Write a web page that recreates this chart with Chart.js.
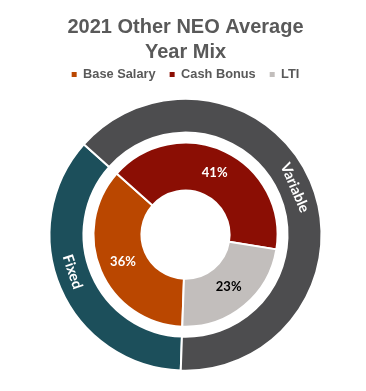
<!DOCTYPE html>
<html>
<head>
<meta charset="utf-8">
<script src="https://cdn.jsdelivr.net/npm/chart.js@4.4.1/dist/chart.umd.min.js"></script>
<style>
  html, body { margin: 0; padding: 0; background: #ffffff; }
  #wrap { width: 366px; height: 391px; position: relative; }
</style>
</head>
<body>
<div id="wrap"><canvas id="c" width="366" height="391"></canvas></div>
<script>
// ---- data ----
const titleLines = ['2021 Other NEO Average', 'Year Mix'];
const categories = ['Base Salary', 'Cash Bonus', 'LTI'];
const mixValues = [36, 41, 23];
const groupLabels = ['Fixed', 'Variable'];
const groupValues = [36, 64];

// ---- styles ----
const mixColors = ['#BA4700', '#8B0E04', '#C2BEBC'];
const mixLabelColors = ['#FFFFFF', '#FFFFFF', '#000000'];
const groupColors = ['#1C4F5B', '#4D4D4F'];
const groupLabelNudgeDeg = [5, 0];
const textGray = '#595959';

const labelPlugin = {
  id: 'sliceLabels',
  afterDatasetsDraw(chart) {
    const ctx = chart.ctx;
    // inner ring percentages
    const inner = chart.getDatasetMeta(2);
    ctx.save();
    ctx.textAlign = 'center';
    ctx.textBaseline = 'middle';
    ctx.font = 'bold 13px Lato';
    inner.data.forEach((arc, i) => {
      const p = arc.tooltipPosition();
      ctx.fillStyle = mixLabelColors[i];
      ctx.fillText(mixValues[i] + '%', p.x, p.y);
    });
    // outer ring group names, rotated along the ring
    const outer = chart.getDatasetMeta(0);
    ctx.font = 'bold 14.5px Lato';
    ctx.fillStyle = '#FFFFFF';
    outer.data.forEach((arc, i) => {
      const a = (arc.startAngle + arc.endAngle) / 2 + groupLabelNudgeDeg[i] * Math.PI / 180;
      const r = (arc.innerRadius + arc.outerRadius) / 2;
      const x = arc.x + r * Math.cos(a);
      const y = arc.y + r * Math.sin(a);
      ctx.save();
      ctx.translate(x, y);
      ctx.rotate(Math.cos(a) >= 0 ? a + Math.PI / 2 : a - Math.PI / 2);
      ctx.fillText(groupLabels[i], 0, 0);
      ctx.restore();
    });
    ctx.restore();
  }
};

new Chart(document.getElementById('c'), {
  type: 'doughnut',
  data: {
    labels: categories,
    datasets: [
      { data: groupValues, backgroundColor: groupColors, borderColor: '#FFFFFF', borderWidth: 2, weight: 34 },
      { data: [1], backgroundColor: 'rgba(0,0,0,0)', borderWidth: 0, weight: 10 },
      { data: mixValues, backgroundColor: mixColors, borderColor: '#FFFFFF', borderWidth: 2, weight: 48 }
    ]
  },
  options: {
    responsive: false,
    animation: false,
    events: [],
    rotation: 182,
    radius: 136,
    cutout: '32.4%',
    layout: { padding: { left: 5, right: 0, top: 0, bottom: 12.5 } },
    plugins: {
      tooltip: { enabled: false },
      title: {
        display: true,
        text: titleLines,
        color: textGray,
        font: { family: 'Liberation Sans', size: 20, weight: 'bold', lineHeight: 1.25 },
        padding: { top: 15, bottom: -11 }
      },
      legend: {
        display: true,
        position: 'top',
        labels: {
          boxWidth: 5,
          boxHeight: 5,
          padding: 14,
          color: textGray,
          font: { family: 'Liberation Sans', size: 12.8, weight: 'bold' },
          generateLabels() {
            return categories.map((t, i) => ({
              text: t,
              fillStyle: mixColors[i],
              strokeStyle: mixColors[i],
              lineWidth: 0,
              hidden: false,
              index: i,
              fontColor: textGray
            }));
          }
        }
      }
    }
  },
  plugins: [labelPlugin]
});
</script>
</body>
</html>
